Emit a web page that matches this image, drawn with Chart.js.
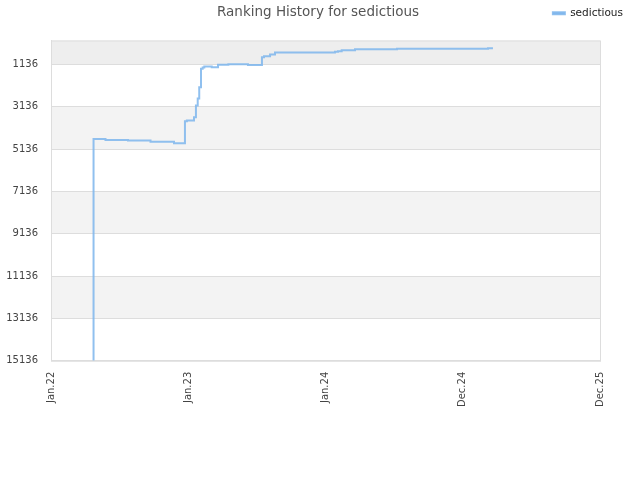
<!DOCTYPE html>
<html>
<head>
<meta charset="utf-8">
<script src="https://cdn.jsdelivr.net/npm/chart.js@4/dist/chart.umd.min.js"></script>
<style>
  html, body { margin: 0; padding: 0; background: #fff; }
  #wrap { width: 640px; height: 480px; }
</style>
</head>
<body>
<div id="wrap"><canvas id="grafica" width="640" height="480"></canvas></div>
<script>
const titulo = 'Ranking History for sedictious';
const jugador = 'sedictious';

// etiquetas del eje x, espaciadas igual
const etiquetasX = ['Jan.22', 'Jan.23', 'Jan.24', 'Dec.24', 'Dec.25'];
const ticksY = [1136, 3136, 5136, 7136, 9136, 11136, 13136, 15136];

// posicion en el eje x (0 = Jan.22, 4 = Dec.25) y ranking
const posiciones = [0.310, 0.310, 0.397, 0.561, 0.725, 0.896, 0.976, 0.990, 1.042, 1.056, 1.069, 1.080, 1.093, 1.105, 1.117, 1.171, 1.217, 1.292, 1.435, 1.537, 1.552, 1.596, 1.632, 2.069, 2.091, 2.118, 2.215, 2.521, 3.184, 3.220];
const ranking    = [15136, 4660, 4700, 4730, 4790, 4860, 3820, 3784, 3628, 3075, 2743, 2209, 1339, 1277, 1230, 1270, 1149, 1121, 1159, 790, 743, 662, 568, 530, 506, 459, 412, 395, 364, 364];

const bandas = [[0, 1136, '#eeeeee'], [3136, 5136, '#f3f3f3'], [7136, 9136, '#f3f3f3'], [11136, 13136, '#f3f3f3']];

const fondo = {
    id: 'fondo',
    beforeDraw(chart) {
        const { ctx, chartArea: a, scales: { y } } = chart;
        ctx.save();
        bandas.forEach(([d, h, c]) => {
            const y1 = y.getPixelForValue(d), y2 = y.getPixelForValue(h);
            ctx.fillStyle = c;
            ctx.fillRect(a.left, Math.min(y1, y2), a.right - a.left, Math.abs(y2 - y1));
        });
        ctx.restore();
    },
    afterDraw(chart) {
        const { ctx, chartArea: a } = chart;
        ctx.save();
        ctx.strokeStyle = '#dddddd';
        ctx.lineWidth = 1;
        ctx.strokeRect(a.left + 0.5, a.top + 0.5, a.right - a.left, a.bottom - a.top);
        ctx.fillStyle = '#555555';
        ctx.font = '13.5px "DejaVu Sans", sans-serif';
        ctx.textAlign = 'center';
        ctx.textBaseline = 'middle';
        ctx.fillText(titulo, 318, 12);
        ctx.restore();
    }
};

// ejes vacios solo para dejar margen arriba y a la derecha
const hueco = () => ({
    display: true,
    grid: { display: false },
    border: { display: false },
    ticks: { display: false }
});

const ctx = document.getElementById('grafica').getContext('2d');
new Chart(ctx, {
    type: 'line',
    data: {
        datasets: [{
            label: jugador,
            data: posiciones.map((x, i) => ({ x: x, y: ranking[i] })),
            borderColor: 'rgba(124,181,236,0.85)',
            backgroundColor: 'rgba(124,181,236,0.75)',
            borderWidth: 2,
            stepped: 'before',
            pointRadius: 0,
            fill: false
        }]
    },
    options: {
        responsive: false,
        animation: false,
        layout: { padding: { left: 0, right: 9, top: 0, bottom: 70 } },
        plugins: {
            title: { display: false },
            tooltip: { enabled: false },
            legend: {
                position: 'top',
                align: 'end',
                labels: {
                    boxWidth: 12,
                    boxHeight: 2,
                    color: '#222',
                    font: { size: 10.5, family: 'DejaVu Sans' },
                    padding: 8
                }
            }
        },
        scales: {
            x: {
                type: 'linear',
                min: 0,
                max: 4,
                grid: { display: false },
                border: { color: '#dddddd' },
                ticks: {
                    stepSize: 1,
                    maxRotation: 90,
                    minRotation: 90,
                    color: '#444',
                    font: { size: 10, family: 'DejaVu Sans' },
                    callback: v => etiquetasX[v]
                }
            },
            xTop: Object.assign(hueco(), {
                type: 'linear', position: 'top',
                afterFit: ax => { ax.height = 12; }
            }),
            y: {
                reverse: true,
                min: 0,
                max: 15136,
                afterBuildTicks: ax => { ax.ticks = ticksY.map(v => ({ value: v })); },
                afterFit: ax => { ax.width = 51; },
                grid: { color: '#dddddd', drawTicks: false },
                border: { color: '#dddddd' },
                ticks: {
                    color: '#444',
                    padding: 13,
                    font: { size: 10, family: 'DejaVu Sans' },
                    callback: v => String(v)
                }
            },
            yDer: Object.assign(hueco(), {
                type: 'linear', position: 'right',
                afterFit: ax => { ax.width = 31; }
            })
        }
    },
    plugins: [fondo]
});
</script>
</body>
</html>
